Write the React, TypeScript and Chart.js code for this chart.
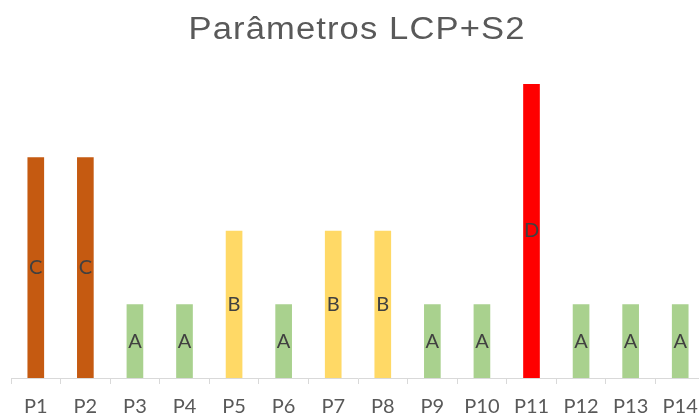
import React, { useEffect, useRef } from "react";
import { Chart, registerables } from "chart.js";

Chart.register(...registerables);

const titleText = "Parâmetros LCP+S2";
const categories = ["P1", "P2", "P3", "P4", "P5", "P6", "P7", "P8", "P9", "P10", "P11", "P12", "P13", "P14"];
const grades = ["C", "C", "A", "A", "B", "A", "B", "B", "A", "A", "D", "A", "A", "A"];
const gradeValues: Record<string, number> = { A: 1, B: 2, C: 3, D: 4 };
const gradeColors: Record<string, string> = { A: "#A9D18E", B: "#FFD966", C: "#C55A11", D: "#FF0000" };
const values = grades.map((g) => gradeValues[g]);

const labelPlugin = {
  id: "barLabels",
  afterDatasetsDraw(chart: any) {
    const ctx = chart.ctx;
    const meta = chart.getDatasetMeta(0);
    ctx.save();
    ctx.fillStyle = "#404040";
    ctx.font = "20px Lato";
    ctx.textAlign = "center";
    ctx.textBaseline = "middle";
    meta.data.forEach((bar: any, i: number) => {
      ctx.fillText(grades[i], bar.x, (bar.y + bar.base) / 2);
    });
    ctx.restore();
  },
};

const titlePlugin = {
  id: "customTitle",
  afterDraw(chart: any) {
    const ctx = chart.ctx;
    ctx.save();
    ctx.fillStyle = "#595959";
    ctx.font = "31px 'Liberation Sans'";
    (ctx as any).letterSpacing = "1px";
    ctx.textAlign = "center";
    ctx.textBaseline = "alphabetic";
    const w = ctx.measureText(titleText).width;
    const sx = 337 / w;
    ctx.translate(357, 39);
    ctx.scale(sx, 1);
    ctx.fillText(titleText, 0, 0);
    ctx.restore();
  },
};

export default function App() {
  const ref = useRef<HTMLCanvasElement | null>(null);
  useEffect(() => {
    if (!ref.current) return;
    const chart = new Chart(ref.current, {
      type: "bar",
      data: {
        labels: categories,
        datasets: [
          {
            data: values,
            backgroundColor: grades.map((g) => gradeColors[g]),
            barThickness: 16,
          },
        ],
      },
      options: {
        animation: false,
        responsive: false,
        maintainAspectRatio: false,
        layout: { padding: { left: 11, right: 11, top: 84, bottom: 0 } },
        plugins: { legend: { display: false }, title: { display: false }, tooltip: { enabled: false } },
        scales: {
          x: {
            grid: {
              display: true,
              drawOnChartArea: false,
              drawTicks: true,
              tickLength: 6,
              offset: true,
              color: "#D9D9D9",
            },
            border: { display: true, color: "#D9D9D9", width: 1 },
            ticks: { color: "#595959", font: { family: "Lato", size: 20 }, padding: 11, maxRotation: 0, autoSkip: false },
            afterFit: (s: any) => {
              s.height = 41;
            },
          },
          y: { display: false, min: 0, max: 4 },
        },
      },
      plugins: [labelPlugin, titlePlugin],
    });
    return () => chart.destroy();
  }, []);
  return (
    <div style={{ position: "fixed", left: 0, top: 0, width: 699, height: 419, overflow: "hidden", background: "#fff" }}>
      <canvas ref={ref} width={716} height={419} style={{ display: "block" }} />
    </div>
  );
}
